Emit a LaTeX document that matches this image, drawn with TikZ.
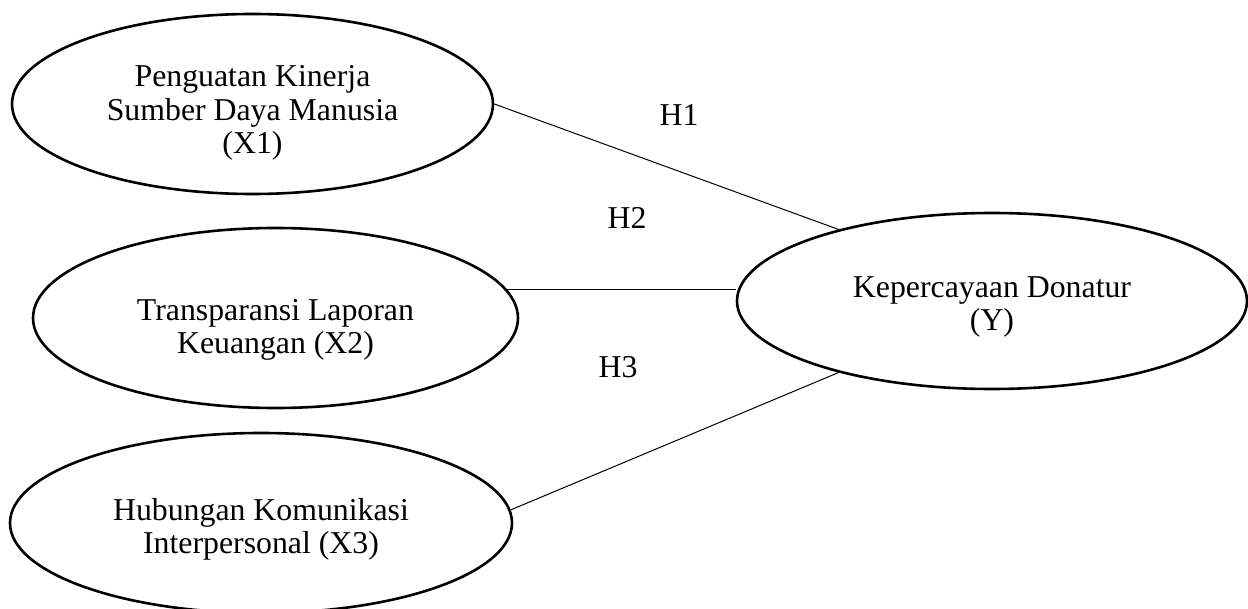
\documentclass[tikz,border=0pt]{standalone}
\usepackage{fontspec}
\setmainfont{Liberation Serif}
\usetikzlibrary{shapes.geometric}

\tikzset{
	var/.style={draw, ellipse, line width=1.3pt, inner sep=0pt},
	vartext/.style={align=center, font=\fontsize{15.9}{16.6}\selectfont},
	path/.style={line width=0.5pt},
	hyp/.style={font=\fontsize{15.9}{17}\selectfont}
}

\begin{document}
\begin{tikzpicture}[x=0.5pt, y=-0.5pt]
	\useasboundingbox (0, 0) rectangle (1248, 609);

	% variables
	\node[var, minimum width=240.5pt, minimum height=90pt] (x1) at (252.5, 104) {};
	\node[var, minimum width=242.5pt, minimum height=90pt] (x2) at (275.5, 318) {};
	\node[var, minimum width=251pt, minimum height=90pt] (x3) at (261, 523) {};
	\node[var, minimum width=255pt, minimum height=88pt] (y) at (992, 301) {};

	\node[vartext] (x1txt) at (252.5, 113) {Penguatan Kinerja\\Sumber Daya Manusia\\(X1)};
	\node[vartext] (x2txt) at (275.5, 330) {Transparansi Laporan\\Keuangan (X2)};
	\node[vartext] (x3txt) at (261, 529) {Hubungan Komunikasi\\Interpersonal (X3)};
	\node[vartext] (ytxt) at (992, 307) {Kepercayaan Donatur\\(Y)};

	% hypotheses
	\draw[path] (x1.east) -- (y.155);
	\draw[path] (x2.7) -- (x2.7 -| y.west);
	\draw[path] (x3.3) -- (y.205);

	\node[hyp] (h1) at (679, 115) {H1};
	\node[hyp] (h2) at (627, 218) {H2};
	\node[hyp] (h3) at (618, 367) {H3};

\end{tikzpicture}
\end{document}
